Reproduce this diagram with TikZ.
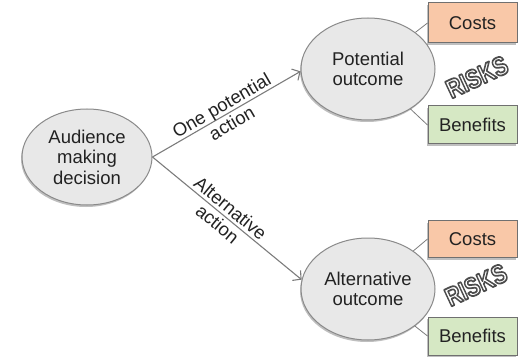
\documentclass[tikz,border=0pt]{standalone}
\usepackage{fontspec}
\setmainfont{Liberation Sans}
\usetikzlibrary{shapes.geometric,shadows,arrows.meta}
\definecolor{textdark}{HTML}{222222}
\definecolor{linegray}{HTML}{7C7C7C}
\definecolor{ellborder}{HTML}{8A8A8A}
\definecolor{ellfill}{HTML}{E8E8E8}
\definecolor{boxborder}{HTML}{707070}
\definecolor{costfill}{HTML}{F9C8A8}
\definecolor{benefitfill}{HTML}{D6E8C4}
% outlined lettering: white fill, grey stroke (PDF text render mode 2)
\newcommand{\outlinedword}[1]{\textcolor{white}{%
  \special{pdf:literal direct 2 Tr 1.7 w 1 j 0.3 0.3 0.3 RG}#1%
  \special{pdf:literal direct 0 Tr}}}
\begin{document}
\begin{tikzpicture}[x=1pt,y=-1pt,
  every node/.style={font=\fontsize{18.5}{20.5}\selectfont, text=textdark},
  softshadow/.style={drop shadow={shadow xshift=-1pt, shadow yshift=-2pt, opacity=0.25, fill=black}},
  choice/.style={ellipse, draw=ellborder, line width=1pt, fill=ellfill, inner sep=0pt,
    align=center, softshadow},
  factor/.style={rectangle, draw=boxborder, line width=1pt, inner sep=0pt,
    minimum width=89pt, minimum height=38pt, softshadow},
  path/.style={draw=linegray, line width=1.1pt, -{Straight Barb[length=6pt,width=13pt]}},
  link/.style={draw=linegray, line width=0.8pt},
  risk/.style={font=\fontsize{25}{25}\selectfont\bfseries, rotate=25, xscale=0.85, yscale=1.05, inner sep=0pt}
]
\useasboundingbox (0,0) rectangle (519,358);

% decision and outcomes
\node[choice, minimum width=130pt, minimum height=96pt] (aud) at (87,157)
  {Audience\\making\\decision};
\node[choice, minimum width=134pt, minimum height=102pt] (pot) at (368,69)
  {Potential\\outcome};
\node[choice, minimum width=134pt, minimum height=102pt] (alt) at (368,289)
  {Alternative\\outcome};

% costs and benefits of each outcome
\node[factor, fill=costfill, minimum height=40pt] (c1) at (472.5,23) {Costs};
\node[factor, fill=benefitfill] (b1) at (472.5,125) {Benefits};
\node[factor, fill=costfill, minimum height=37pt] (c2) at (472.5,239) {Costs};
\node[factor, fill=benefitfill] (b2) at (472.5,336) {Benefits};

\draw[link] (pot) -- (c1.west);
\draw[link] (pot) -- (b1.west);
\draw[link] (alt) -- (c2.west);
\draw[link] (alt) -- (b2.west);

% actions
\draw[path] (aud.east) -- (pot.182)
  node[midway, sloped, align=center, inner sep=0pt] (lab1) {One potential\\action};
\draw[path] (aud.east) -- (alt.172)
  node[pos=0.48, sloped, align=center, inner sep=0pt] (lab2) {Alternative\\action};

% risk labels
\node[risk] (r1) at (477,77) {\outlinedword{RISKS}};
\node[risk] (r2) at (476,285) {\outlinedword{RISKS}};
\end{tikzpicture}
\end{document}
